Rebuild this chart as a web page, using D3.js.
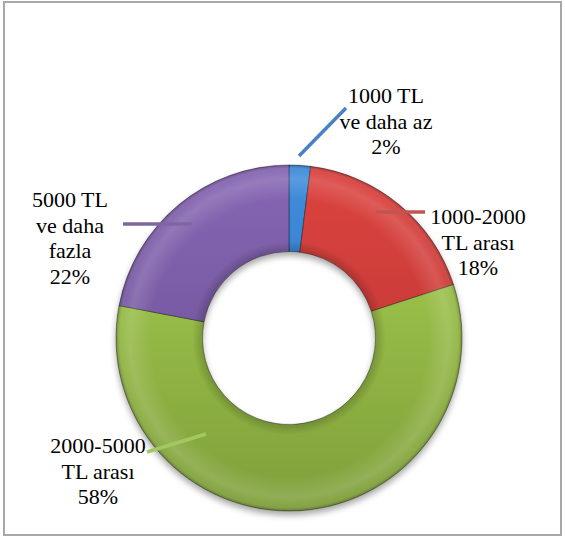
<!DOCTYPE html>
<html>
<head>
<meta charset="utf-8">
<script src="https://cdn.jsdelivr.net/npm/d3@7"></script>
<style>
  body { margin: 0; background: #fff; }
  svg { display: block; }
  .label { font-family: 'Liberation Serif', 'Times New Roman', Times, 'DejaVu Serif', serif; font-size: 22px; }
</style>
</head>
<body>
<script>
// chart data
var categories = ['1000 TL ve daha az', '1000-2000 TL arası', '2000-5000 TL arası', '5000 TL ve daha fazla'];
var values = [2, 18, 58, 22];
var labelLines = [['1000 TL', 've daha az'], ['1000-2000', 'TL arası'], ['2000-5000', 'TL arası'], ['5000 TL', 've daha', 'fazla']];
var colorsTop = ['#3f8ddc', '#dc4440', '#a9d050', '#8767b4'];
var colorsBottom = ['#2f6fb8', '#b6322f', '#7e9f3a', '#654a8e'];
var leaderColors = ['#4a80c4', '#c05451', '#a3c862', '#7f66a3'];

// layout (relative to the donut centre): leader line ends and label anchor
var leaders = [[10, -182, 57, -230], [87, -126, 136, -126], [-83, 96, -142, 114], [-97, -114, -166, -114]];
var labelAt = [[97, -235], [189, -114], [-191, 115], [-219, -131]];

var width = 565, height = 538;
var cx = 289, cy = 338;
var rOuter = 173, rInner = 86.5;

var svg = d3.select('body').append('svg')
    .attr('width', width)
    .attr('height', height);

var defs = svg.append('defs');

// frame
svg.append('rect')
    .attr('x', 4).attr('y', 2)
    .attr('width', 557).attr('height', 533)
    .attr('fill', '#fff')
    .attr('stroke', '#a8a8a8')
    .attr('stroke-width', 2);

var shadow = defs.append('filter')
    .attr('id', 'shadow')
    .attr('x', '-20%').attr('y', '-20%')
    .attr('width', '140%').attr('height', '140%');
shadow.append('feDropShadow')
    .attr('dx', 0).attr('dy', 4)
    .attr('stdDeviation', 3)
    .attr('flood-color', '#000')
    .attr('flood-opacity', 0.35);

values.forEach(function(v, i)
{
    var g = defs.append('linearGradient')
        .attr('id', 'grad' + i)
        .attr('gradientUnits', 'userSpaceOnUse')
        .attr('x1', 0).attr('y1', -rOuter)
        .attr('x2', 0).attr('y2', rOuter);
    g.append('stop').attr('offset', 0).attr('stop-color', colorsTop[i]);
    g.append('stop').attr('offset', 1).attr('stop-color', colorsBottom[i]);
});

// bevel-like overlay
var bevel = defs.append('radialGradient')
    .attr('id', 'bevel')
    .attr('gradientUnits', 'userSpaceOnUse')
    .attr('cx', 0).attr('cy', 0).attr('r', rOuter);
[[0.5, '#000', 0.18], [0.56, '#000', 0.0], [0.8, '#fff', 0.0], [0.92, '#fff', 0.14],
 [0.97, '#fff', 0.05], [1, '#000', 0.25]].forEach(function(s)
{
    bevel.append('stop').attr('offset', s[0]).attr('stop-color', s[1]).attr('stop-opacity', s[2]);
});

var pie = d3.pie().sort(null).value(function(d) { return d; });
var arcs = pie(values);
var arc = d3.arc().innerRadius(rInner).outerRadius(rOuter);

var donut = svg.append('g')
    .attr('transform', 'translate(' + cx + ',' + cy + ')');

var shaded = donut.append('g').attr('filter', 'url(#shadow)');
shaded.selectAll('path.slice')
    .data(arcs)
    .enter().append('path')
    .attr('class', 'slice')
    .attr('d', arc)
    .attr('fill', function(d, i) { return 'url(#grad' + i + ')'; })
    .attr('stroke', 'rgba(0,0,0,0.45)')
    .attr('stroke-width', 0.8);

donut.selectAll('path.bevel')
    .data(arcs)
    .enter().append('path')
    .attr('class', 'bevel')
    .attr('d', arc)
    .attr('fill', 'url(#bevel)')
    .attr('pointer-events', 'none');

// leader lines
donut.selectAll('line.leader')
    .data(leaders)
    .enter().append('line')
    .attr('class', 'leader')
    .attr('x1', function(d) { return d[0]; })
    .attr('y1', function(d) { return d[1]; })
    .attr('x2', function(d) { return d[2]; })
    .attr('y2', function(d) { return d[3]; })
    .attr('stroke', function(d, i) { return leaderColors[i]; })
    .attr('stroke-width', 3.5);

// labels
var labels = donut.selectAll('text.label')
    .data(arcs)
    .enter().append('text')
    .attr('class', 'label')
    .attr('text-anchor', 'middle')
    .attr('fill', '#000')
    .attr('x', function(d, i) { return labelAt[i][0]; })
    .attr('y', function(d, i) { return labelAt[i][1]; });

labels.each(function(d, i)
{
    var t = d3.select(this);
    var lines = labelLines[i].concat([values[i] + '%']);
    lines.forEach(function(s, j)
    {
        t.append('tspan')
            .attr('x', labelAt[i][0])
            .attr('dy', j == 0 ? 0 : 25.5)
            .text(s);
    });
});
</script>
</body>
</html>
